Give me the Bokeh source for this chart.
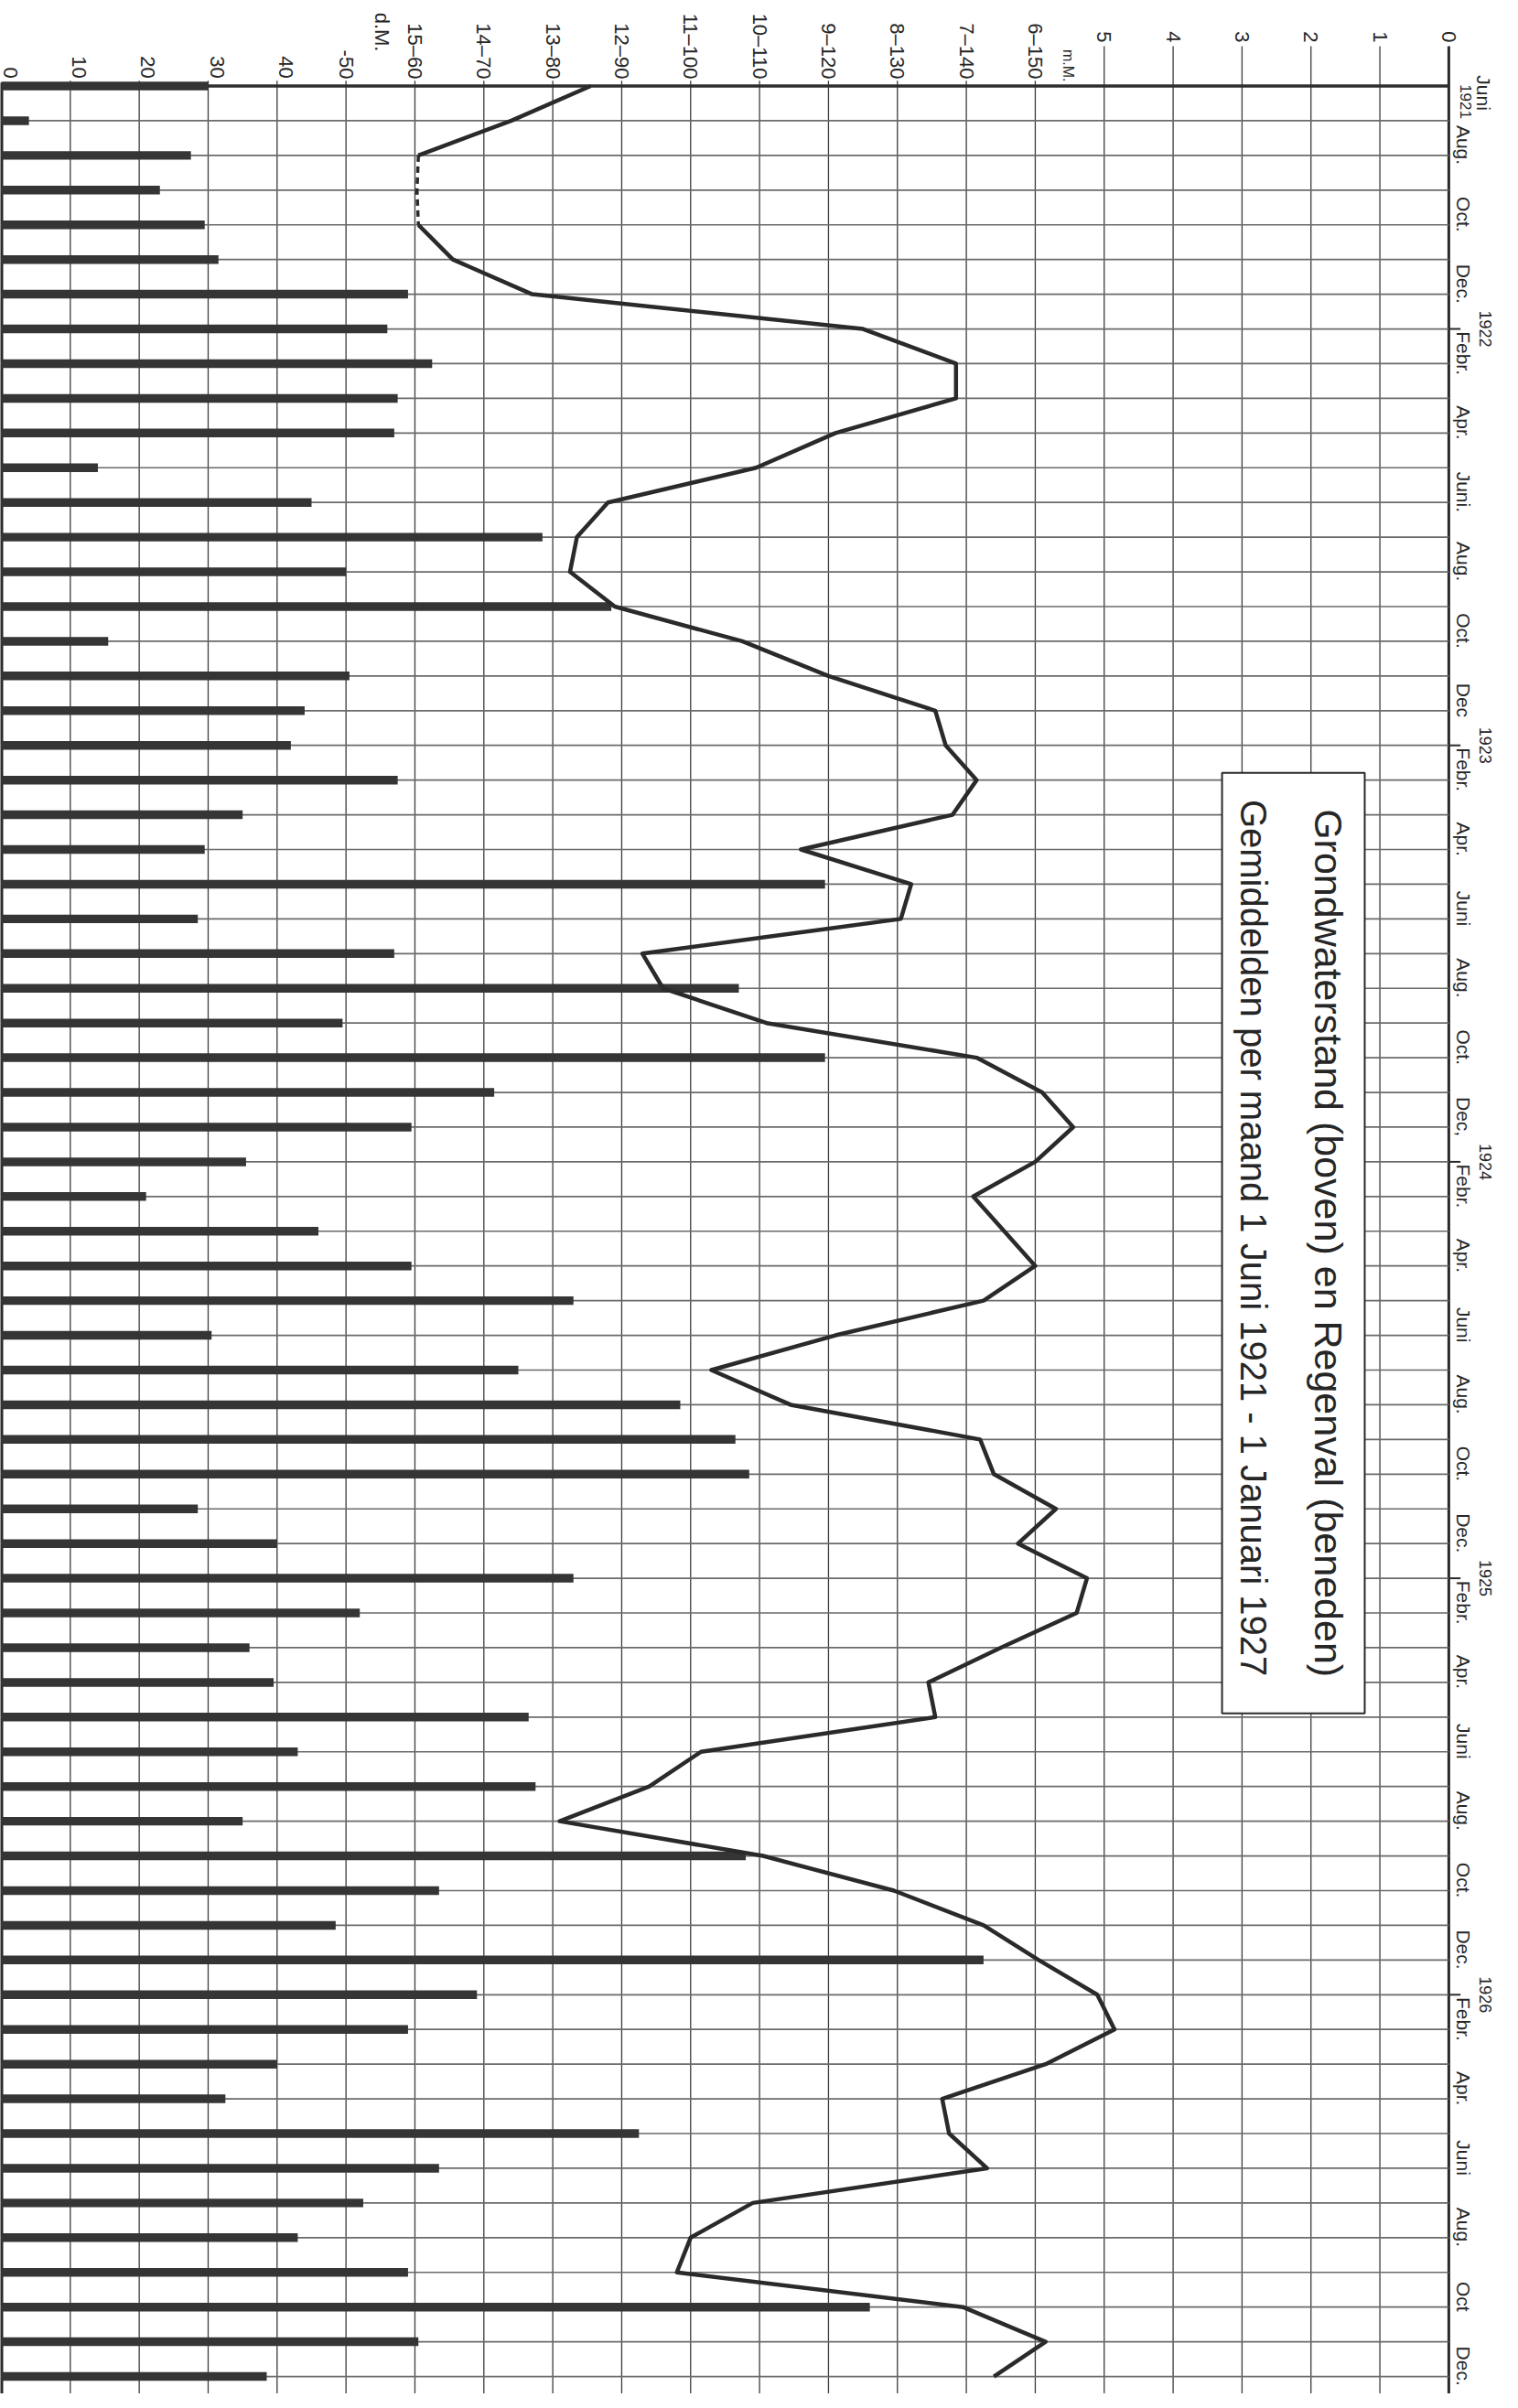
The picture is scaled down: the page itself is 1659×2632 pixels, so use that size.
import math
from bokeh.plotting import figure
from bokeh.models import Range1d, ColumnDataSource
from bokeh.core.properties import value
from bokeh.embed import file_html
from bokeh.resources import INLINE

# ---------------- data (monthly means, 1 Juni 1921 .. 1 Dec 1926) ----------------
month_idx = list(range(67))          # 0 = Juni 1921, 7 = Jan 1922, ..., 66 = Dec 1926

rain_mm = [30, 4, 27.5, 23, 29.5, 31.5, 59, 56, 62.5, 57.5, 57, 14, 45, 78.5,
           50, 88.5, 15.5, 50.5, 44, 42, 57.5, 35, 29.5, 119.5, 28.5, 57, 107,
           49.5, 119.5, 71.5, 59.5, 35.5, 21, 46, 59.5, 83, 30.5, 75, 98.5, 106.5,
           108.5, 28.5, 40, 83, 52, 36, 39.5, 76.5, 43, 77.5, 35, 108, 63.5, 48.5,
           142.5, 69, 59, 40, 32.5, 92.5, 63.5, 52.5, 43, 59, 126, 60.5, 38.5]

groundwater_dm = [12.45, 13.6, 14.95, 14.97, 14.95, 14.45, 13.3, 8.5, 7.15, 7.15,
                  8.9, 10.05, 12.2, 12.65, 12.75, 12.1, 10.25, 9.0, 7.45, 7.3, 6.85,
                  7.2, 9.4, 7.8, 7.95, 11.7, 11.4, 9.9, 6.85, 5.9, 5.45, 6.0, 6.9,
                  6.45, 6.0, 6.75, 8.9, 10.7, 9.55, 6.8, 6.6, 5.7, 6.25, 5.25, 5.4,
                  6.5, 7.55, 7.45, 10.85, 11.6, 12.9, 9.95, 8.05, 6.75, 5.95, 5.1,
                  4.85, 5.85, 7.35, 7.25, 6.7, 10.1, 11.0, 11.2, 7.05, 5.85, 6.6]

month_label_idx = [2, 4, 6, 8, 10, 12, 14, 16, 18, 20, 22, 24, 26, 28, 30, 32, 34,
                   36, 38, 40, 42, 44, 46, 48, 50, 52, 54, 56, 58, 60, 62, 64, 66]
month_label_text = ["Aug.", "Oct.", "Dec.", "Febr.", "Apr.", "Juni.", "Aug.", "Oct.",
                    "Dec", "Febr.", "Apr.", "Juni", "Aug.", "Oct.", "Dec,", "Febr.",
                    "Apr.", "Juni", "Aug.", "Oct.", "Dec.", "Febr.", "Apr.", "Juni",
                    "Aug.", "Oct.", "Dec.", "Febr.", "Apr.", "Juni", "Aug.", "Oct",
                    "Dec."]
year_tick_idx = [7, 19, 31, 43, 55]
year_tick_text = ["1922", "1923", "1924", "1925", "1926"]

rain_tick_vals = [0, 10, 20, 30, 40]
rain_tick_text = ["0", "10", "20", "30", "40"]
dual_tick_vals = [50, 60, 70, 80, 90, 100, 110, 120, 130, 140, 150]
dual_tick_text = ["-50", "15\u201360", "14\u201370", "13\u201380", "12\u201390",
                  "11\u2013100", "10\u2013110", "9\u2013120", "8\u2013130",
                  "7\u2013140", "6\u2013150"]
gw_tick_vals = [5, 4, 3, 2, 1, 0]
gw_tick_text = ["5", "4", "3", "2", "1", "0"]

title_1 = "Grondwaterstand (boven) en Regenval (beneden)"
title_2 = "Gemiddelden per maand  1 Juni 1921 - 1 Januari 1927"

# ---------------- figure ----------------
W, H = 1643, 2616
X0, X1 = -0.133, 217.98        # rain-mm coordinates across the page
Y_BOTTOM, Y_TOP = 66.5, -2.465  # month index (reversed: time runs downward)
GW_ZERO = 210                   # rain-equivalent of groundwater 0
LABEL_SHIFT = -0.3              # hand-lettered month names sit slightly early

p = figure(width=W, height=H, output_backend="svg", toolbar_location=None,
           x_range=Range1d(X0, X1), y_range=Range1d(Y_BOTTOM, Y_TOP),
           x_axis_location=None, y_axis_location=None, min_border=0,
           background_fill_color="white", border_fill_color="white")
p.extra_x_ranges = {"gw": Range1d(21 - X0 / 10.0, 21 - X1 / 10.0)}
p.grid.visible = False
p.outline_line_color = None

FONT = value("Liberation Sans")
INK = "#262626"
ROT = -math.pi / 2

# vertical grid lines
xs_thin, top_thin = [], []
for r in range(10, GW_ZERO, 10):
    xs_thin.append(r)
    top_thin.append(-1.15 if r >= 160 else -0.15)
p.segment(x0=xs_thin, x1=xs_thin, y0=top_thin, y1=[Y_BOTTOM + 1] * len(xs_thin),
          line_color="#3c3c3c", line_width=1.3)
p.segment(x0=[0], x1=[0], y0=[-0.1], y1=[Y_BOTTOM + 1], line_color="#2a2a2a", line_width=4)
p.segment(x0=[GW_ZERO], x1=[GW_ZERO], y0=[-1.15], y1=[Y_BOTTOM + 1],
          line_color="#2a2a2a", line_width=3)

# horizontal month lines
p.segment(x0=[0] * 66, x1=[GW_ZERO] * 66, y0=month_idx[1:], y1=month_idx[1:],
          line_color="#6a6a6a", line_width=1.7)
p.segment(x0=[0], x1=[GW_ZERO], y0=[0], y1=[0], line_color="#2e2e2e", line_width=3.5)
# year boundary ticks
p.segment(x0=[GW_ZERO] * len(year_tick_idx), x1=[GW_ZERO + 1.7] * len(year_tick_idx),
          y0=year_tick_idx, y1=year_tick_idx, line_color="#2a2a2a", line_width=2)

# rain bars
src = ColumnDataSource(dict(k=month_idx, rain=rain_mm, gw=groundwater_dm))
p.hbar(y="k", left=0, right="rain", height=0.25, source=src,
       fill_color="#353535", line_color=None)

# groundwater line (pencilled dashed part between Aug. and Oct. 1921)
p.line(x=groundwater_dm[:3], y=month_idx[:3], x_range_name="gw",
       line_color="#2a2a2a", line_width=4.5, line_join="round")
p.line(x=groundwater_dm[2:5], y=month_idx[2:5], x_range_name="gw",
       line_color="#2a2a2a", line_width=3.5, line_dash="7 5")
p.line(x=groundwater_dm[4:], y=month_idx[4:], x_range_name="gw",
       line_color="#2a2a2a", line_width=4.5, line_join="round")

# top scale labels
p.text(x=[v + 0.3 for v in rain_tick_vals], y=[-0.22] * len(rain_tick_vals),
       text=rain_tick_text, angle=ROT, text_align="right", text_baseline="bottom",
       text_font=FONT, text_font_size="22px", text_color=INK)
p.text(x=dual_tick_vals, y=[-0.2] * len(dual_tick_vals), text=dual_tick_text,
       angle=ROT, text_align="right", text_baseline="middle",
       text_font=FONT, text_font_size="22px", text_color=INK)
p.text(x=gw_tick_vals, y=[-1.25] * len(gw_tick_vals), text=gw_tick_text,
       x_range_name="gw", angle=ROT, text_align="right", text_baseline="middle",
       text_font=FONT, text_font_size="22px", text_color=INK)
p.text(x=[154.8], y=[-0.12], text=["m.M."], angle=ROT, text_align="right",
       text_baseline="middle", text_font=FONT, text_font_size="16px", text_color=INK)
p.text(x=[55.2], y=[-0.99], text=["d.M."], angle=ROT, text_align="right",
       text_baseline="middle", text_font=FONT, text_font_size="22px", text_color=INK)

# month labels along the right edge
p.text(x=[212.2] * len(month_label_idx), y=[k + LABEL_SHIFT for k in month_label_idx],
       text=month_label_text, angle=ROT, text_align="center", text_baseline="middle",
       text_font=FONT, text_font_size="21px", text_color=INK)
p.text(x=[215.0], y=[0.2], text=["Juni"], angle=ROT, text_align="center",
       text_baseline="middle", text_font=FONT, text_font_size="21px", text_color=INK)
p.text(x=[212.5], y=[0.45], text=["1921"], angle=ROT, text_align="center",
       text_baseline="middle", text_font=FONT, text_font_size="17px", text_color=INK)
p.text(x=[215.3] * len(year_tick_idx), y=year_tick_idx, text=year_tick_text,
       angle=ROT, text_align="center", text_baseline="middle",
       text_font=FONT, text_font_size="18px", text_color=INK)

# title box
p.quad(left=[177.1], right=[197.8], top=[19.79], bottom=[46.89],
       fill_color="white", line_color="#2a2a2a", line_width=2)
p.text(x=[192.6], y=[33.34], text=[title_1], angle=ROT, text_align="center",
       text_baseline="middle", text_font=FONT, text_font_size="43px", text_color=INK)
p.text(x=[181.7], y=[33.34], text=[title_2], angle=ROT, text_align="center",
       text_baseline="middle", text_font=FONT, text_font_size="40px", text_color=INK)

open("out.html", "w").write(file_html(p, INLINE))
